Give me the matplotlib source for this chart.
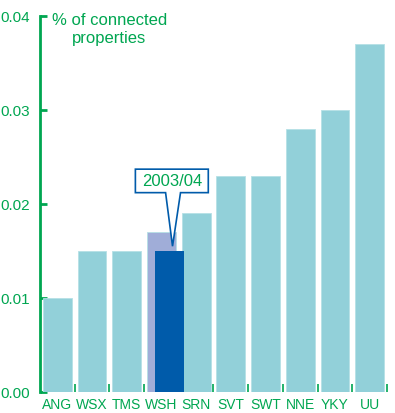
import numpy as np
import matplotlib
matplotlib.use("Agg")
import matplotlib.pyplot as plt
from matplotlib.patches import Polygon

plt.rcParams.update({
    "font.family": ["Liberation Sans", "DejaVu Sans"],
})

companies = ["ANG", "WSX", "TMS", "WSH", "SRN", "SVT", "SWT", "NNE", "YKY", "UU"]
connected = [0.010, 0.015, 0.015, 0.017, 0.019, 0.023, 0.023, 0.028, 0.030, 0.037]
wsh_2003 = 0.015
highlight = "WSH"

green = "#00a651"
bar_color = "#92d0d9"
prev_color = "#a0add8"
dark_blue = "#005baa"

fig = plt.figure(figsize=(3.95, 4.14), dpi=100)
ax = fig.add_axes([0.101, 0.051, 0.879, 0.908])

x = np.arange(len(companies))
colors = [prev_color if c == highlight else bar_color for c in companies]
ax.bar(x, connected, width=0.83, color=colors, edgecolor="#b5e0e6", linewidth=0.6, zorder=2)

hi = companies.index(highlight)
ax.bar(hi + 0.24, wsh_2003, width=0.83, color=dark_blue, linewidth=0, zorder=3)

ax.set_xlim(-0.5, 9.5)
ax.set_ylim(0, 0.04)

# axes styling
for s in ["top", "right", "bottom"]:
    ax.spines[s].set_visible(False)
ax.spines["left"].set_color(green)
ax.spines["left"].set_linewidth(2)

ax.set_yticks([0, 0.01, 0.02, 0.03, 0.04])
ax.set_yticklabels(["0.00", "0.01", "0.02", "0.03", "0.04"])
ax.tick_params(axis="y", direction="in", length=5, width=2, color=green,
               labelcolor=green, labelsize=11, pad=7)

ax.set_xticks(x)
ax.set_xticklabels(companies)
ax.tick_params(axis="x", length=0, labelcolor=green, labelsize=10, pad=4)
ax.set_xticks(np.arange(0.5, 10, 1), minor=True)
ax.tick_params(axis="x", which="minor", direction="in", length=6, width=1.2, color=green)

ax.text(1.5, 0.0404, "% of connected\nproperties", color=green, fontsize=12,
        ha="center", va="top", linespacing=1.2)

# callout for the 2003/04 value
bx0, bx1 = hi - 0.75, hi + 1.35
by0, by1 = 0.0212, 0.0237
tip = (hi + 0.32, 0.0155)
ax.add_patch(Polygon([(bx0, by0), (bx0, by1), (bx1, by1), (bx1, by0),
                      (hi + 0.55, by0), tip, (hi + 0.12, by0)],
                     closed=True, facecolor="white", edgecolor=dark_blue,
                     linewidth=1.2, zorder=4))
ax.text((bx0 + bx1) / 2, (by0 + by1) / 2, "2003/04", color=green, fontsize=12,
        ha="center", va="center", zorder=5)

fig.savefig("out.png", dpi=100)
